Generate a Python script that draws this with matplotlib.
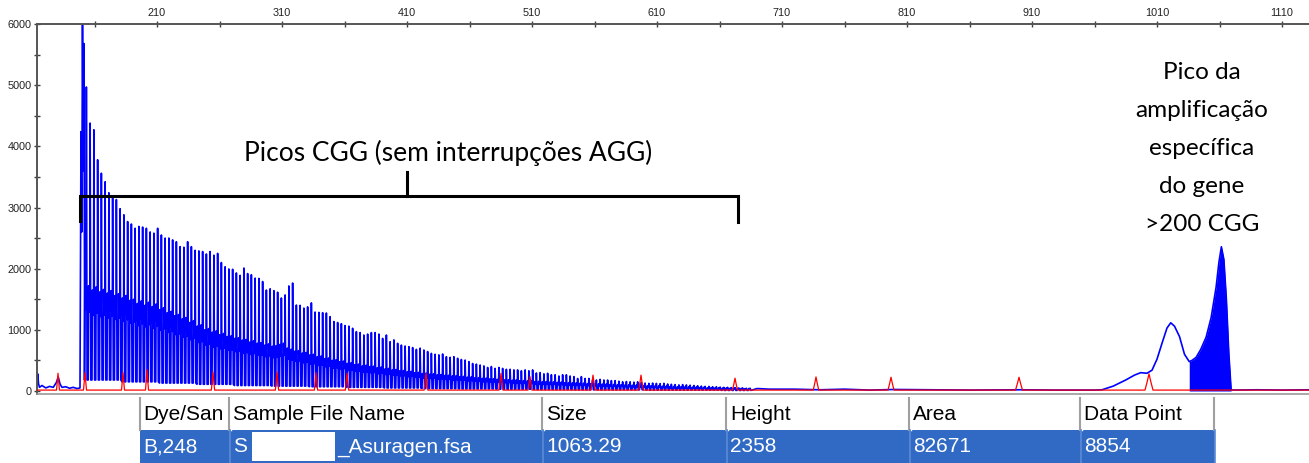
import numpy as np
import matplotlib.pyplot as plt
from matplotlib.patches import Rectangle

# axis ticks (size in bp, height in RFU)
x_ticks = [210, 310, 410, 510, 610, 710, 810, 910, 1010, 1110]
x_minor = [160, 260, 360, 460, 560, 660, 760, 860, 960, 1060]
y_ticks = [0, 1000, 2000, 3000, 4000, 5000, 6000]
y_minor = [500, 1500, 2500, 3500, 4500, 5500]

# blue trace before the CGG ladder (incl. the off-scale first peaks)
pre_bp = [114, 114.6, 115.2, 116, 118, 121, 124, 127, 129.5, 131, 132.5, 134, 137, 140,
          143, 146, 148.4, 149.2, 149.8, 150.4, 151.0, 151.5, 152.0]
pre_rfu = [110, 280, 120, 60, 90, 50, 75, 60, 140, 230, 110, 60, 70, 45,
           60, 40, 50, 4240, 2600, 6000, 3600, 5680, 1900]

# CGG repeat peaks, one every 3 bp
cgg_start = 153.5
cgg_step = 3.0
cgg_tops = [4970, 4380, 4270, 3780, 3560, 3420, 3240, 3180, 3130, 2980,
            2880, 2770, 2730, 2660, 2690, 2680, 2660, 2600, 2580, 2660,
            2550, 2500, 2500, 2470, 2440, 2360, 2350, 2440, 2360, 2300,
            2290, 2280, 2240, 2280,
            2220, 2250, 2100, 2030, 1995, 1990, 1930, 1890, 2010, 1920,
            1900, 1845, 1840, 1790, 1650, 1670, 1640, 1615, 1520, 1570,
            1717, 1765, 1405, 1400, 1355, 1375, 1440, 1290, 1285, 1280,
            1275, 1215, 1135, 1120, 1100, 1070, 1060,
            1025, 970, 955, 915, 930, 955, 955, 930, 860, 915,
            805, 835, 780, 750, 735, 725, 710, 680, 700, 670,
            645, 615, 600, 590, 605, 560, 550, 560, 535, 515,
            505, 480, 450, 440,
            425, 410, 385, 400, 370, 385, 370, 355, 355, 345,
            345, 330, 345, 330, 345, 295, 300, 280, 290, 265,
            265, 245, 265, 265, 245, 235, 205, 235, 205, 205,
            180, 180, 190, 180, 180, 170, 170,
            160, 150, 155, 150, 145, 150, 140, 130, 125, 130,
            125, 120, 125, 115, 110, 105, 100, 105, 100, 95,
            90, 85, 80, 75, 75, 70, 70, 65, 60, 60,
            55, 55, 50, 50, 45, 45]
# stutter shoulder of each repeat (the dark band)
cgg_mid = [1780, 1720, 1650, 1700, 1620, 1660, 1600, 1640, 1560, 1590,
           1520, 1560, 1480, 1500, 1430, 1470, 1400, 1450, 1380, 1420,
           1330, 1360, 1280, 1300, 1230, 1250, 1180, 1200, 1120, 1150,
           1060, 1080, 1000, 1020, 960, 980, 920, 940, 890, 900,
           860, 870, 830, 840, 800, 820, 780, 790, 750, 770,
           730, 740, 760, 780, 700, 680, 650, 660, 620, 630,
           590, 600, 560, 570, 530, 540, 500, 510, 480, 490,
           450, 460, 430, 440, 410, 420, 400, 405, 380, 390,
           360, 370, 345, 350, 330, 335, 315, 320, 300, 305,
           285, 290, 275, 280, 265, 268, 255, 258, 245, 248,
           235, 238, 225, 228, 215, 218, 205, 208, 198, 200,
           190, 192, 182, 185, 175, 178, 168, 170, 162, 165,
           155, 158, 150, 152, 145, 147, 140, 142, 135, 137,
           130, 132, 125, 127, 120, 122, 115, 117, 110, 112,
           105, 107, 100, 102, 96, 98, 92, 94, 88, 90,
           85, 86, 80, 82, 76, 78, 72, 74, 68, 70,
           65, 66, 60, 62, 56, 58, 52, 54, 48, 50,
           45, 46, 42, 43, 40, 41, 38, 39]
# trough level, one value per block of 10 repeats
cgg_low = [180, 150, 130, 110, 90, 80, 70, 60, 50, 40,
           35, 30, 25, 20, 20, 15, 15, 10]

# blue trace after the ladder, up to the gene-specific peak
post_bp = [690, 700, 720, 740, 760, 780, 800, 830, 860, 900, 930, 960, 966, 975,
           985, 992, 997, 1002, 1006, 1010, 1014, 1018, 1021, 1024, 1028, 1032, 1035.8]
post_rfu = [40, 30, 30, 20, 30, 15, 25, 20, 15, 20, 15, 15, 20, 80,
            180, 260, 300, 290, 340, 520, 780, 1030, 1115, 1060, 890, 600, 480]

# called (filled) peak
called_bp = [1035.8, 1038, 1041.3, 1045, 1049.3, 1053.3, 1057.3, 1059.5, 1061.5,
             1063.5, 1065.5, 1067.5, 1069.3]
called_rfu = [480, 500, 550, 680, 880, 1200, 1700, 2100, 2358,
              2150, 1500, 600, 20]
tail_bp = [1072, 1090, 1110, 1131.6]
tail_rfu = [15, 20, 15, 20]

# red size-standard peaks
red_bp = [130.8, 152.4, 182.8, 202.0, 254.8, 306.0, 337.2, 362.0, 425.2,
          485.2, 508.4, 558.8, 597.2, 672.4, 737.2, 797.2, 899.6, 1003.6]
red_rfu = [290, 300, 300, 350, 310, 310, 300, 290, 290,
           290, 235, 260, 260, 210, 230, 225, 225, 280]
red_width = [1.2, 1.2, 1.2, 1.2, 1.3, 1.3, 1.3, 1.3, 1.5,
             1.6, 1.6, 1.7, 1.8, 2.0, 2.2, 2.4, 2.8, 3.2]

table_cols = ["Dye/San", "Sample File Name", "Size", "Height", "Area", "Data Point"]
table_vals = ["B,248", "S", "1063.29", "2358", "82671", "8854"]
sample_suffix = "_Asuragen.fsa"

W, H = 1309, 463
fig = plt.figure(figsize=(W / 100, H / 100), dpi=100)
ax = fig.add_axes([37 / W, (H - 394) / H, 1 - 37 / W, (394 - 24) / H])

# build blue trace: trough -> stutter shoulder -> main peak -> trough
pos = cgg_start + cgg_step * np.arange(len(cgg_tops))
mid = np.array(cgg_mid[:len(pos)], dtype=float)
low = np.repeat(cgg_low, 10)[:len(pos)]
offs = np.array([-1.5, -1.2, -1.0, -0.8, -0.6, -0.4, -0.25, 0.0, 0.55])
shape = [0, 1.0, 0.8, 0.97, 0.78, 0.92, 0.75]
cols = [low] + [s * mid for s in shape[1:]] + [np.array(cgg_tops, dtype=float), low]
cx = (pos[:, None] + offs).ravel()
cy = np.column_stack(cols).ravel()
bx = np.concatenate([pre_bp, cx, post_bp, called_bp[1:], tail_bp])
by = np.concatenate([pre_rfu, cy, post_rfu, called_rfu[1:], tail_rfu])
ax.plot(bx, by, color="#0000ff", lw=1.2, zorder=2)
ax.fill_between(called_bp, 0, called_rfu, color="#0000ff", lw=0, zorder=2)

# build red trace
rx, ry = [114], [15]
for p, h, w in zip(red_bp, red_rfu, red_width):
    rx += [p - w, p - 0.45 * w, p, p + 0.45 * w, p + w]
    ry += [15, 0.55 * h, h, 0.55 * h, 15]
rx.append(1131.6)
ry.append(15)
ax.plot(rx, ry, color="#ff0000", lw=0.9, zorder=3)

ax.set_xlim(114, 1131.6)
ax.set_ylim(-49, 6000)
ax.xaxis.tick_top()
ax.set_xticks(x_ticks)
ax.set_xticks(x_minor, minor=True)
ax.set_yticks(y_ticks)
ax.set_yticks(y_minor, minor=True)
ax.tick_params(which="both", direction="inout", length=4, width=1, colors="#404040",
               labelsize=7.8, pad=2)
ax.tick_params(axis="x", labelcolor="#222222")
ax.tick_params(axis="y", labelcolor="#222222")
for lab in ax.get_xticklabels() + ax.get_yticklabels():
    lab.set_family("Liberation Sans")
ax.spines["right"].set_visible(False)
ax.spines["top"].set_color("#555555")
ax.spines["top"].set_linewidth(1.4)
ax.spines["left"].set_color("#555555")
ax.spines["left"].set_linewidth(1.4)
ax.spines["bottom"].set_color("#999999")
ax.spines["bottom"].set_linewidth(1.2)

# bracket + annotations
ax.plot([148.4, 148.4, 674.8, 674.8], [2780, 3188, 3188, 2770], color="black", lw=2.2,
        solid_joinstyle="miter", zorder=4)
ax.plot([410, 410], [3188, 3580], color="black", lw=2.2, zorder=4)
ax.text(442.8, 3891, "Picos CGG (sem interrupções AGG)", ha="center", va="center",
        fontsize=19, family="Lato", zorder=5)
ax.text(1046, 3957, "Pico da\namplificação\nespecífica\ndo gene\n>200 CGG", ha="center",
        va="center", fontsize=17.5, family="Lato", linespacing=2.0, zorder=5)

# peak table below the plot
tab = fig.add_axes([0, 0, 1, 68 / H])
tab.set_xlim(0, W)
tab.set_ylim(68, 0)
tab.axis("off")
edges = [140, 230, 543, 727, 910, 1081, 1215]
tab.add_patch(Rectangle((edges[0], 35), edges[-1] - edges[0], 33, color="#316ac5", lw=0))
tab.plot([edges[0], edges[0]], [3, 35], color="#a0a0a0", lw=1.5)
for e in edges[1:]:
    tab.plot([e - 1, e - 1], [3, 35], color="#a0a0a0", lw=1.5)
    tab.plot([e + 0.5, e + 0.5], [3, 35], color="white", lw=1)
    tab.plot([e, e], [35, 68], color="#5d8ad6", lw=1.2)
for left, right, name, val in zip(edges[:-1], edges[1:], table_cols, table_vals):
    clip = Rectangle((left, 0), right - left - 2, 68, transform=tab.transData)
    t1 = tab.text(left + 3, 19.5, name, ha="left", va="center", fontsize=15,
                  family="Liberation Sans", color="black")
    t1.set_clip_path(clip)
    tab.text(left + 3, 52, val, ha="left", va="center", fontsize=15,
             family="Liberation Sans", color="white")
tab.add_patch(Rectangle((252, 37), 83, 29, color="white", lw=0))
tab.text(337, 52, sample_suffix, ha="left", va="center", fontsize=15,
         family="Liberation Sans", color="white")

fig.savefig("out.png", dpi=100)
